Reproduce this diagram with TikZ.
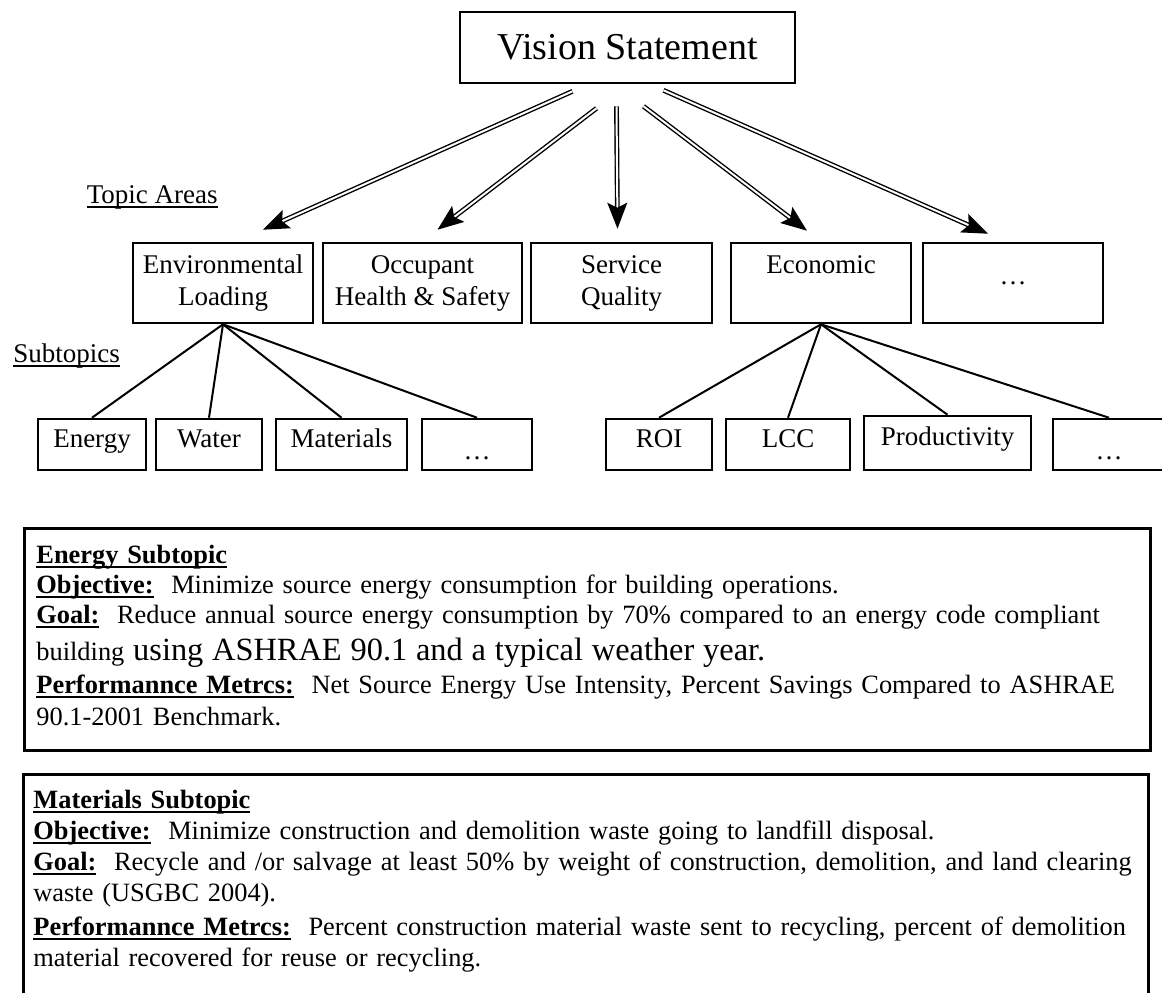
\documentclass[tikz,border=0pt]{standalone}
\usepackage{fontspec}
\setmainfont{Liberation Serif}
\usetikzlibrary{calc,arrows.meta}
\newcommand\undl[1]{\leavevmode\setbox0\hbox{#1}\rlap{\rule[-2.4pt]{\wd0}{0.8pt}}\box0}

\begin{document}
\begin{tikzpicture}[x=0.5pt, y=-0.5pt,
    box/.style={draw, line width=1.3pt, inner sep=0pt},
    topic/.style={box, minimum width=#1, minimum height=40pt, align=center, font=\fontsize{13.5}{16}\selectfont},
    subtopic/.style={box, minimum width=#1, minimum height=25.5pt, text height=9pt, text depth=6.5pt, font=\fontsize{13.5}{16}\selectfont},
    panel/.style={box, line width=1.5pt, anchor=north west, minimum width=#1},
    dbl/.style={double, line width=0.7pt, double distance=1pt, -{Stealth[length=13pt,width=10pt,inset=2.5pt]}},
    branch/.style={line width=1pt},
    heading/.style={anchor=base west, inner sep=0pt, font=\fontsize{13.5}{16}\selectfont},
    body/.style={anchor=base west, align=left, text width=600pt, inner sep=0pt, font=\fontsize{13.2}{15}\selectfont}]
	%%%%% START %%%%%
	\useasboundingbox (0,0) rectangle (1162,992);

	\node[box, minimum width=167.5pt, minimum height=35.5pt, font=\fontsize{19}{22}\selectfont] (vision) at (627.5,47.5) {Vision Statement};

	\node[topic=90pt] (env) at (223,283) {Environmental\\Loading};
	\node[topic=99.5pt] (occ) at (422.5,283) {Occupant\\Health \& Safety};
	\node[topic=90.5pt] (serv) at (621.5,283) {Service\\Quality};
	\node[topic=90pt] (econ) at (821,283) {Economic\\\phantom{Loading}};
	\node[topic=90pt] (more) at (1013,283) {\dots};

	\coordinate (v1) at ($(vision.south)+(-55,7)$);
	\coordinate (v2) at ($(vision.south)+(-31,24)$);
	\coordinate (v3) at ($(vision.south)+(-11,22)$);
	\coordinate (v4) at ($(vision.south)+(16,22)$);
	\coordinate (v5) at ($(vision.south)+(36,6)$);
	\draw[dbl] (v1) -- ($(env.north)+(40,-12)$);
	\draw[dbl] (v2) -- ($(occ.north)+(15,-12)$);
	\draw[dbl] (v3) -- ($(serv.north)+(-4,-13)$);
	\draw[dbl] (v4) -- ($(econ.north)+(-14,-11)$);
	\draw[dbl] (v5) -- ($(more.north)+(-25,-8)$);

	\node[heading, anchor=base east] (topiclbl) at (218,203) {\undl{Topic Areas}};
	\node[heading] (sublbl) at (13,362) {\undl{Subtopics}};

	\node[subtopic=54pt] (energy) at (92,444.5) {Energy};
	\node[subtopic=53pt] (water) at (209,444.5) {Water};
	\node[subtopic=65.5pt] (materials) at (341.5,444.5) {Materials};
	\node[subtopic=55pt] (envmore) at (477,444.5) {\raisebox{-6pt}{\dots}};
	\node[subtopic=53pt] (roi) at (659,444.5) {ROI};
	\node[subtopic=62pt] (lcc) at (788,444.5) {LCC};
	\node[subtopic=83.5pt, minimum height=27pt] (prod) at (947.5,443) {Productivity};
	\node[subtopic=56pt] (econmore) at (1109,444.5) {\raisebox{-6pt}{\dots}};

	\foreach \s in {energy,water,materials,envmore}
		\draw[branch] (env.south) -- (\s.north);
	\foreach \s in {roi,lcc,prod,econmore}
		\draw[branch] (econ.south) -- (\s.north);

	\node[panel=563pt, minimum height=111pt] (energypanel) at (23,527) {};
	\node[body] (energytext) at ($(energypanel.north west)+(13,36)$) {%
		\undl{\textbf{Energy Subtopic}}\\
		\undl{\textbf{Objective:}}\ \ Minimize source energy consumption for building operations.\\
		\undl{\textbf{Goal:}}\ \ Reduce annual source energy consumption by 70\% compared to an energy code compliant\\[3.5pt]
		building {\fontsize{16.2}{18}\selectfont using ASHRAE 90.1 and a typical weather year.}\\[1.5pt]
		\undl{\textbf{Performannce Metrcs:}}\ \ Net Source Energy Use Intensity, Percent Savings Compared to ASHRAE\\[1pt]
		90.1-2001 Benchmark.};

	\node[panel=562.5pt, minimum height=130pt] (matpanel) at (22,773) {};
	\node[body, font=\fontsize{13.2}{15.5}\selectfont] (mattext) at ($(matpanel.north west)+(11,35)$) {%
		\undl{\textbf{Materials Subtopic}}\\
		\undl{\textbf{Objective:}}\ \ Minimize construction and demolition waste going to landfill disposal.\\
		\undl{\textbf{Goal:}}\ \ Recycle and /or salvage at least 50\% by weight of construction, demolition, and land clearing\\
		waste (USGBC 2004).\\[1.5pt]
		\undl{\textbf{Performannce Metrcs:}}\ \ Percent construction material waste sent to recycling, percent of demolition\\
		material recovered for reuse or recycling.};
	%%%%% END %%%%%
\end{tikzpicture}
\end{document}
